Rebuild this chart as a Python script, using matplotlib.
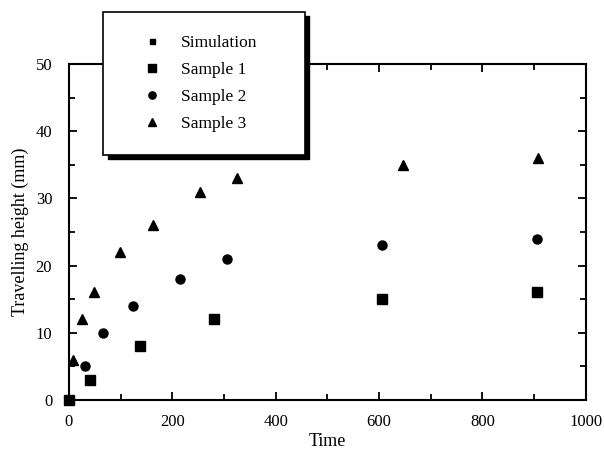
import matplotlib
matplotlib.use("Agg")
import matplotlib.pyplot as plt
from matplotlib.patches import Rectangle
from matplotlib.ticker import MultipleLocator

plt.rcParams['font.family'] = ['Liberation Serif', 'DejaVu Serif']

# values
sim_x = [0]
sim_y = [0]
s1_x = [0, 40, 138, 280, 605, 905]
s1_y = [0, 3, 8, 12, 15, 16]
s2_x = [0, 31, 66, 124, 215, 305, 605, 905]
s2_y = [0, 5, 10, 14, 18, 21, 23, 24]
s3_x = [8, 25, 48, 99, 163, 254, 326, 647, 907]
s3_y = [6, 12, 16, 22, 26, 31, 33, 35, 36]

fig = plt.figure(figsize=(6.04, 4.55), dpi=100)
ax = fig.add_axes([0.114, 0.121, 0.856, 0.738])

h0, = ax.plot(sim_x, sim_y, 's', color='black', ms=4.5, clip_on=False, label='Simulation')
h1, = ax.plot(s1_x, s1_y, 's', color='black', ms=6.5, clip_on=False, label='Sample 1')
h2, = ax.plot(s2_x, s2_y, 'o', color='black', ms=6.5, clip_on=False, label='Sample 2')
h3, = ax.plot(s3_x, s3_y, '^', color='black', ms=7, clip_on=False, label='Sample 3')

ax.set_xlim(0, 1000)
ax.set_ylim(0, 50)
ax.xaxis.set_major_locator(MultipleLocator(200))
ax.xaxis.set_minor_locator(MultipleLocator(100))
ax.yaxis.set_major_locator(MultipleLocator(10))
ax.yaxis.set_minor_locator(MultipleLocator(5))
ax.tick_params(which='both', direction='in', right=True, top=True, labelsize=12, width=1.3)
ax.tick_params(which='major', length=6)
ax.tick_params(which='minor', length=4)
ax.tick_params(axis='x', which='major', pad=10)
ax.tick_params(axis='y', which='major', pad=12)
for s in ax.spines.values():
    s.set_linewidth(1.5)

ax.set_xlabel('Time', fontsize=13, labelpad=2)
ax.set_ylabel('Travelling height (mm)', fontsize=13, labelpad=5)

# legend box with hard black shadow, sitting over the top spine
bx, by, bw, bh = 0.171, 0.659, 0.334, 0.315
fig.patches.append(Rectangle((bx + 0.007, by - 0.009), bw, bh, transform=fig.transFigure,
                             facecolor='black', edgecolor='black', zorder=5))
fig.patches.append(Rectangle((bx, by), bw, bh, transform=fig.transFigure,
                             facecolor='white', edgecolor='black', linewidth=1.2, zorder=6))
leg = fig.legend(handles=[h0, h1, h2, h3], loc='center', bbox_to_anchor=(bx + bw / 2 - 0.01, by + bh / 2),
                 frameon=False, fontsize=12.5, labelspacing=0.62, handletextpad=0.9, handlelength=1.5,
                 markerscale=0.8)
leg.set_zorder(7)

fig.savefig('out.png', dpi=100)
